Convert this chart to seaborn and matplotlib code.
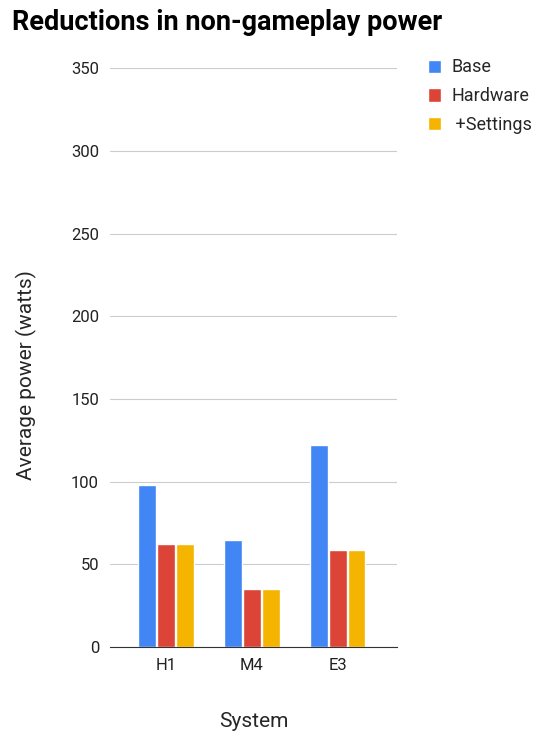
import seaborn as sns
import matplotlib.pyplot as plt
import pandas as pd

sns.set_style("white")
plt.rcParams['font.family'] = ['Roboto', 'DejaVu Sans']

systems = ["H1", "M4", "E3"]
series = ["Base", "Hardware", " +Settings"]
base = [98, 65, 122]
hardware = [62.5, 35, 58.5]
settings = [62.5, 35, 58.5]
colors = ["#4285F4", "#DB4437", "#F4B400"]

df = pd.DataFrame({
    "System": systems * 3,
    "Series": [s for s in series for _ in systems],
    "Power": base + hardware + settings,
})

fig = plt.figure(figsize=(5.35, 7.34), dpi=100)
ax = fig.add_axes([0.206, 0.1185, 0.536, 0.7885])
sns.barplot(data=df, x="System", y="Power", hue="Series", palette=colors,
            width=0.66, gap=0.06, ax=ax, saturation=1, legend=True)

ax.set_ylim(0, 350)
ax.set_xlim(-0.65, 2.69)
ax.set_yticks(range(0, 351, 50))
ax.grid(axis="y", color="#cccccc", linewidth=0.8)
ax.set_axisbelow(True)
for s in ["top", "right", "left"]:
    ax.spines[s].set_visible(False)
ax.spines["bottom"].set_color("#333333")
ax.tick_params(axis="both", length=0, labelsize=12, colors="#222222", pad=8)
ax.set_xlabel("System", fontsize=15, labelpad=28)
ax.set_ylabel("Average power (watts)", fontsize=15)
ax.yaxis.set_label_coords(-0.255, 0.47)

ax.legend(loc="upper left", bbox_to_anchor=(1.05, 1.045), frameon=False,
          fontsize=13, handlelength=0.75, handleheight=0.75, handletextpad=0.55,
          labelspacing=0.6)

fig.text(0.022, 0.97, "Reductions in non-gameplay power", fontsize=19.5,
         fontweight="bold", va="center", ha="left", color="black")

fig.savefig("out.png", dpi=100)
plt.close(fig)
